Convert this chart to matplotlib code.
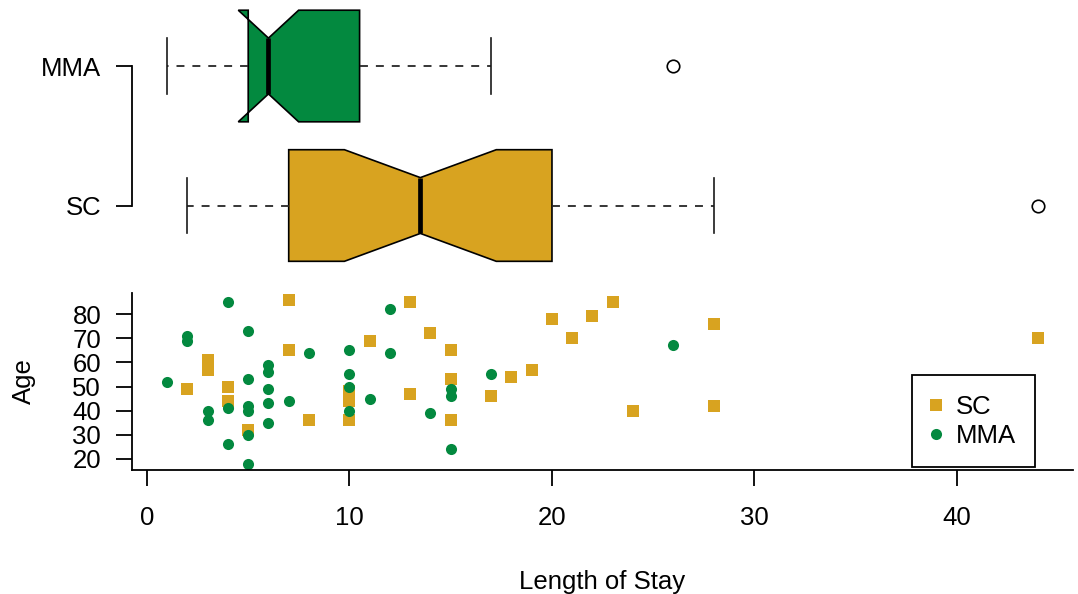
import matplotlib
matplotlib.use('Agg')
import matplotlib.pyplot as plt
from matplotlib.lines import Line2D

plt.rcParams['font.family'] = ['Liberation Sans', 'DejaVu Sans']
plt.rcParams['font.size'] = 18.5

# colours
gold = '#D8A320'
green = '#03893F'

# length of stay / age per group
sc_stay = [7, 7, 11, 13, 14, 3, 3, 2, 4, 10, 10, 10, 5, 4, 8, 13, 15, 15, 15, 17,
           18, 19, 20, 21, 22, 23, 24, 28, 28, 44]
sc_age = [86, 65, 69, 85, 72, 61, 57, 49, 50, 48, 44, 36, 32, 44, 36, 47, 65, 53, 36, 46,
          54, 57, 78, 70, 79, 85, 40, 76, 42, 70]
mma_stay = [4, 2, 2, 5, 8, 10, 12, 12, 1, 5, 6, 6, 6, 10, 10, 10, 11, 7, 6, 6,
            5, 5, 5, 4, 3, 3, 4, 5, 14, 15, 15, 15, 17, 26]
mma_age = [85, 71, 69, 73, 64, 65, 82, 64, 52, 53, 59, 56, 49, 55, 50, 40, 45, 44, 43, 35,
           42, 40, 30, 41, 40, 36, 26, 18, 39, 49, 46, 24, 55, 67]

# boxplot summary (SC, MMA) as drawn in the top panel
box_labels = ['SC', 'MMA']
box_whislo = [2, 1]
box_q1 = [7, 5]
box_med = [13.5, 6]
box_q3 = [20, 10.5]
box_whishi = [28, 17]
box_cilo = [9.75, 4.51]
box_cihi = [17.25, 7.49]
box_out = [[44], [26]]
box_cols = [gold, green]

xticks = [0, 10, 20, 30, 40]
yticks = [20, 30, 40, 50, 60, 70, 80]

fig = plt.figure(figsize=(10.78, 5.94), dpi=100)
ax_box = fig.add_axes([0.1228, 0.5366, 0.8724, 0.4697])
ax = fig.add_axes([0.1228, 0.2081, 0.8724, 0.2986])

stats = []
for i in range(2):
    stats.append(dict(label=box_labels[i], whislo=box_whislo[i], q1=box_q1[i], med=box_med[i],
                      q3=box_q3[i], whishi=box_whishi[i], cilo=box_cilo[i], cihi=box_cihi[i],
                      fliers=box_out[i]))

bp = ax_box.bxp(stats, positions=[1, 2], widths=0.8, orientation='horizontal',
                patch_artist=True, shownotches=True, capwidths=0.4,
                boxprops=dict(edgecolor='black', linewidth=1.2),
                medianprops=dict(color='black', linewidth=3.4, solid_capstyle='butt'),
                whiskerprops=dict(color='#262626', linewidth=1.3, linestyle=(0, (4.4, 4.4))),
                capprops=dict(color='#1a1a1a', linewidth=1.2),
                flierprops=dict(marker='o', markerfacecolor='none', markeredgecolor='black',
                                markersize=9, markeredgewidth=1.2))
for patch, c in zip(bp['boxes'], box_cols):
    patch.set_facecolor(c)

ax_box.set_xlim(-0.72, 45.72)
ax_box.set_ylim(0.5, 2.5)
for s in ['top', 'right', 'bottom']:
    ax_box.spines[s].set_visible(False)
ax_box.spines['left'].set_bounds(1, 2)
ax_box.spines['left'].set_linewidth(1.3)
ax_box.set_xticks([])
ax_box.set_yticks([1, 2], box_labels)
ax_box.tick_params(axis='y', length=11.5, width=1.3, pad=11, labelsize=18.5)

# scatter
ax.plot(sc_stay, sc_age, 's', color=gold, markersize=8.5, markeredgewidth=0, linestyle='none')
ax.plot(mma_stay, mma_age, 'o', color=green, markersize=8, markeredgewidth=0, linestyle='none')

ax.set_xlim(-0.72, 45.72)
ax.set_ylim(15.28, 88.72)
for s in ['top', 'right']:
    ax.spines[s].set_visible(False)
for s in ['left', 'bottom']:
    ax.spines[s].set_linewidth(1.3)
ax.set_xticks(xticks)
ax.set_yticks(yticks)
ax.tick_params(axis='x', length=11.5, width=1.3, pad=14, labelsize=18.5)
ax.tick_params(axis='y', length=11.5, width=1.3, pad=11, labelsize=18.5)
fig.text(24 / 1078, 1 - 381.5 / 594, 'Age', rotation=90, ha='center', va='center', fontsize=18.5)
fig.text(0.5588, 1 - 589 / 594, 'Length of Stay', ha='center', va='baseline', fontsize=18.5)

handles = [Line2D([], [], marker='s', color=gold, linestyle='none', markersize=8.5, markeredgewidth=0),
           Line2D([], [], marker='o', color=green, linestyle='none', markersize=8, markeredgewidth=0)]
leg = ax.legend(handles, ['SC', 'MMA'], loc='lower right',
                bbox_to_anchor=(1035 / 1078, 1 - 467 / 594), bbox_transform=fig.transFigure,
                fancybox=False, framealpha=1, edgecolor='black', fontsize=18.5,
                handlelength=0.36, handletextpad=0.6, labelspacing=0.2, borderpad=0.75,
                borderaxespad=0)
leg.get_frame().set_linewidth(1.3)

fig.savefig('out.png', dpi=100)
